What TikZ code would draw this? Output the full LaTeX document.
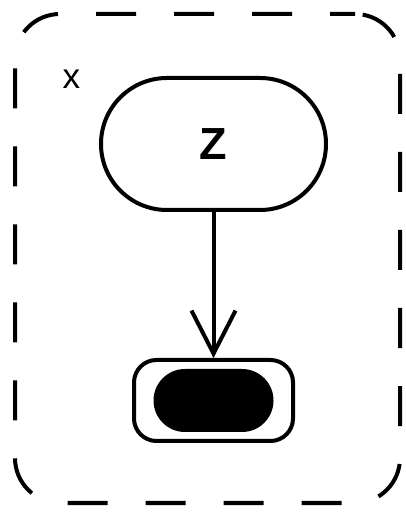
\documentclass[tikz,border=0pt]{standalone}
\usepackage{fontspec}
\setmainfont{Liberation Sans}
\usetikzlibrary{positioning, arrows.meta}

\begin{document}
\begin{tikzpicture}[
    node distance=2.92cm,
    every node/.style={inner sep=0pt},
    activity/.style={draw, line width=0.08cm, rounded corners=1.32cm, minimum width=4.5cm, minimum height=2.64cm, font=\fontsize{25.6}{30}\selectfont\bfseries},
    endstate/.style={draw, line width=0.08cm, rounded corners=0.45cm, minimum width=3.18cm, minimum height=1.62cm},
    enddot/.style={fill, rounded corners=0.63cm, minimum width=2.4cm, minimum height=1.26cm},
    flow/.style={draw, line width=0.08cm, -{Straight Barb[length=0.86cm, width=0.88cm, line width=0.08cm]}},
    frame/.style={draw, dash pattern=on 0.8cm off 0.76cm, dash phase=0.3cm, line width=0.08cm, rounded corners=0.9cm, minimum width=7.7cm, minimum height=9.78cm}
]
    \useasboundingbox (0,0) rectangle (8.1,10.26);
    %
    \node [frame] (region) at (4.15,5.09) {};
    \node [font=\fontsize{20}{24}\selectfont] (lbl) at (1.43,8.67) {x};
    \node [activity] (z) at (4.27,7.38) {Z};
    \node [endstate, below=of z] (final) {};
    \node [enddot] (dot) at (final) {};
    %
    \path (z) edge[flow] (final);
\end{tikzpicture}
\end{document}
